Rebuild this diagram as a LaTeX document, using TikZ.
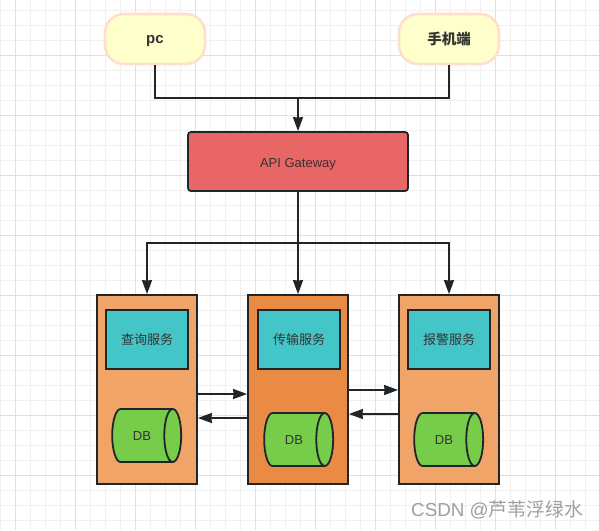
\documentclass[tikz,border=0pt]{standalone}
\usepackage{fontspec}
\setmainfont{Liberation Sans}
\newfontfamily\cjk{Noto Sans CJK SC}
\usetikzlibrary{arrows.meta,shapes.geometric}
\definecolor{lineaOsc}{HTML}{20252A}
\definecolor{textoOsc}{HTML}{333333}
\definecolor{bordeCli}{HTML}{FFDFCC}
\definecolor{rellCli}{HTML}{FFFFCC}
\definecolor{rojoApi}{HTML}{E96666}
\definecolor{naranja}{HTML}{F0A468}
\definecolor{naranjaOsc}{HTML}{EA8B45}
\definecolor{turquesa}{HTML}{44C5C7}
\definecolor{verdeDb}{HTML}{77CC4A}
\tikzset{
  cliente/.style={rectangle, rounded corners=19pt, draw=bordeCli, line width=2.6pt,
    fill=rellCli, minimum width=100pt, minimum height=50pt,
    text height=11pt, text depth=2pt,
    text=textoOsc, font=\fontsize{15}{17}\selectfont\bfseries},
  pasarela/.style={rectangle, rounded corners=3pt, draw=lineaOsc, line width=1.8pt,
    fill=rojoApi, minimum width=220pt, minimum height=59pt,
    text height=13pt, text depth=2pt,
    text=textoOsc, font=\fontsize{13}{15}\selectfont},
  servicio/.style={rectangle, draw=lineaOsc, line width=1.8pt, fill=naranja,
    minimum width=100pt, minimum height=189pt},
  modulo/.style={rectangle, draw=lineaOsc, line width=1.8pt, fill=turquesa,
    minimum width=82pt, minimum height=59pt, text height=11pt, text depth=1pt,
    text=textoOsc, font=\cjk\fontsize{13}{15}\selectfont},
  base/.style={cylinder, shape aspect=1.8, draw=lineaOsc, line width=1.8pt,
    fill=verdeDb, minimum width=53pt, minimum height=69pt, inner sep=0pt,
    text height=9.4pt, text depth=0pt,
    text=textoOsc, font=\fontsize{13}{15}\selectfont},
  flechaApi/.style={-{Stealth[length=14pt,width=10pt,inset=0.5pt]}, line width=1.8pt, lineaOsc},
}

\begin{document}
\begin{tikzpicture}[x=1pt,y=-1pt]
    \useasboundingbox (0,0) rectangle (599,530);
    \fill[white] (0,0) rectangle (599,530);
    % cuadricula
    \foreach \x in {0,15,...,599} \draw[gray!12, line width=0.8pt] (\x,0) -- (\x,530);
    \foreach \y in {10,25,...,530} \draw[gray!12, line width=0.8pt] (0,\y) -- (599,\y);
    \foreach \x in {15,75,...,599} \draw[gray!25, line width=0.8pt] (\x,0) -- (\x,530);
    \foreach \y in {55,115,...,530} \draw[gray!25, line width=0.8pt] (0,\y) -- (599,\y);

    \node[cliente] (pc) at (155,39) {pc};
    \node[cliente, text height=12pt, font=\cjk\fontsize{14.5}{16}\selectfont\bfseries] (movil) at (449,39) {手机端};
    \node[pasarela] (api) at (298,161.5) {API Gateway};

    \node[servicio] (consulta) at (147,389.5) {};
    \node[servicio, fill=naranjaOsc] (transporte) at (298,389.5) {};
    \node[servicio] (alarma) at (449,389.5) {};

    \node[modulo] (mconsulta) at (147,339.5) {查询服务};
    \node[modulo] (mtransporte) at (299,339.5) {传输服务};
    \node[modulo] (malarma) at (449,339.5) {报警服务};

    \node[base] (dbconsulta) at (142,435.5) {DB};
    \node[base] (dbtransporte) at (294,439.5) {DB};
    \node[base] (dbalarma) at (444,439.5) {DB};

    \coordinate (union) at (298,98);
    \coordinate (rama) at (298,243);

    \draw[line width=1.8pt, lineaOsc] (pc.south) |- (union);
    \draw[line width=1.8pt, lineaOsc] (movil.south) |- (union);
    \draw[flechaApi] (union) -- (api);
    \draw[flechaApi] (api) -- (transporte);
    \draw[flechaApi] (rama) -| (consulta);
    \draw[flechaApi] (rama) -| (alarma);
    \draw[flechaApi] ([yshift=-4.5pt]consulta.east) -- ([yshift=-4.5pt]transporte.west);
    \draw[flechaApi] ([yshift=-28.5pt]transporte.west) -- ([yshift=-28.5pt]consulta.east);
    \draw[flechaApi] ([yshift=-0.5pt]transporte.east) -- ([yshift=-0.5pt]alarma.west);
    \draw[flechaApi] ([yshift=-24.5pt]alarma.west) -- ([yshift=-24.5pt]transporte.east);

    \node[text=gray!75!white, font=\cjk\fontsize{18.8}{21}\selectfont, anchor=east, inner sep=0pt] (marca) at (583,510) {{\fontspec{Liberation Sans}CSDN @}芦苇浮绿水};
  \end{tikzpicture}
\end{document}
